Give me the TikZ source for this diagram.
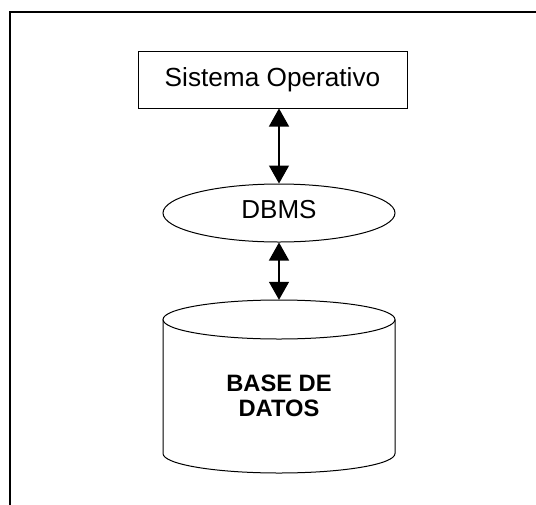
\documentclass[tikz,border=0pt]{standalone}
\usepackage{fontspec}
\setmainfont{Liberation Sans}
\usetikzlibrary{arrows.meta,shapes.geometric}

\tikzset{
  frameline/.style={line width=1.5pt, black},
  shapeline/.style={line width=1pt, black},
  osbox/.style={shapeline, draw, rectangle, minimum width=269pt, minimum height=57pt,
    inner sep=0pt, font=\fontsize{26.2}{28}\selectfont},
  dbmsnode/.style={shapeline, draw, ellipse, minimum width=232pt, minimum height=58pt,
    inner sep=0pt, text depth=7pt, font=\fontsize{26}{28}\selectfont},
  dbtext/.style={inner sep=0pt, align=center, font=\fontsize{23.7}{25.5}\selectfont\bfseries},
  link/.style={line width=1.3pt, {Triangle[width=20pt,length=18pt]}-{Triangle[width=20pt,length=18pt]}}
}

\begin{document}
\begin{tikzpicture}[x=1pt, y=-1pt]
  \useasboundingbox (0,0) rectangle (536,504);

  % page frame, open to the right and bottom
  \draw[frameline] (10,520) -- (10,12) -- (550,12);

  % operating system and DBMS
  \node[osbox] (os) at (272.5,79.5) {Sistema Operativo};
  \node[dbmsnode] (dbms) at (279,213) {DBMS};

  % database cylinder
  \node[inner sep=0pt, minimum width=232pt, minimum height=173pt] (db) at (279,386.5) {};
  \draw[shapeline, fill=white] (163,319.5) -- (163,453.5)
    arc[start angle=180, end angle=360, x radius=116pt, y radius=19.5pt]
    -- (395,319.5);
  \draw[shapeline] (279,319.5) ellipse[x radius=116pt, y radius=19.5pt];
  \node[dbtext] (dbt) at (279,396) {BASE DE\\DATOS};

  % links
  \draw[link] (os.south -| dbms.north) -- (dbms.north);
  \draw[link] (dbms.south) -- (db.north);
\end{tikzpicture}
\end{document}
